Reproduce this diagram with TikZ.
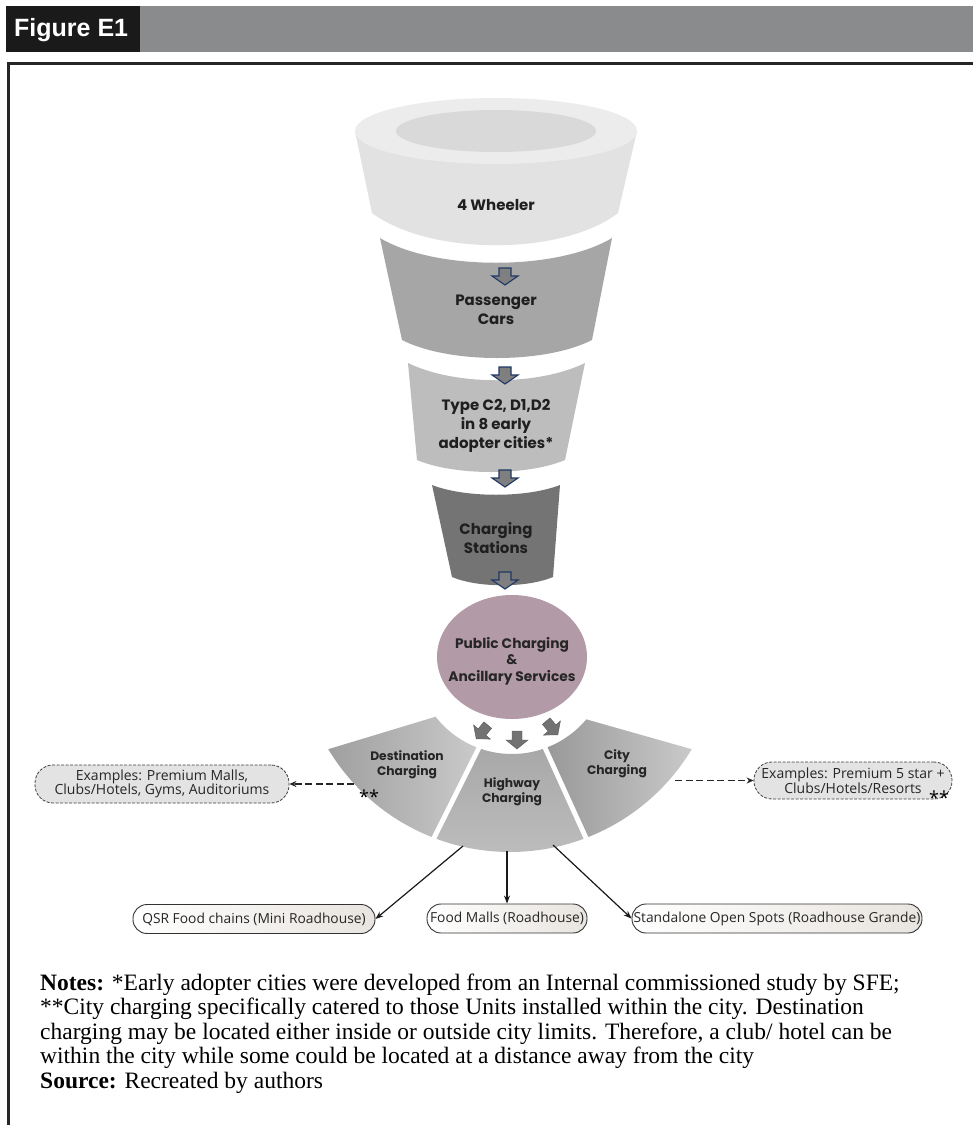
\documentclass[tikz,border=0pt]{standalone}
\usepackage{fontspec}
\setmainfont{Liberation Serif}
\newfontfamily\popfont{Poppins}
\newfontfamily\opfont{Open Sans}
\newfontfamily\arialfont{Liberation Sans}
\usetikzlibrary{arrows.meta,calc}
\definecolor{hdrgray}{HTML}{8A8B8D}
\definecolor{hdrblack}{HTML}{1A1A1A}
\definecolor{segA}{HTML}{E2E2E2}
\definecolor{segAtop}{HTML}{ECECEC}
\definecolor{segAin}{HTML}{D9D9D9}
\definecolor{segB}{HTML}{A6A6A6}
\definecolor{segC}{HTML}{BDBDBD}
\definecolor{segD}{HTML}{747474}
\definecolor{mauve}{HTML}{B39AA7}
\definecolor{navy}{HTML}{203864}
\definecolor{arrgray}{HTML}{7F7F7F}
\definecolor{beige}{HTML}{E8E4DF}
\begin{document}
\begin{tikzpicture}[x=1pt,y=1pt,yscale=-1,
  ftext/.style={font=\popfont\bfseries\fontsize{15}{19}\selectfont, align=center, text=black!88, inner sep=0},
  stext/.style={font=\popfont\bfseries\fontsize{12.3}{14.5}\selectfont, align=center, text=black!85, inner sep=0},
  exbox/.style={draw=black!75, dash pattern=on 3pt off 1.5pt, line width=0.8, fill=gray!22, rounded corners=18, inner sep=0, align=center, font=\opfont\fontsize{14}{14.5}\selectfont, text=black!85},
  btbox/.style={draw=black!80, line width=0.9, rounded corners=14, left color=white, right color=beige, inner sep=0, minimum height=29, font=\opfont\fontsize{13.8}{14}\selectfont, text=black!85},
  dasharrow/.style={draw=black!85, line width=1.3, dash pattern=on 7pt off 3.5pt, -{Stealth[length=7pt,width=6pt]}},
  solarrow/.style={draw=black!90, line width=1.2, -{Stealth[length=8pt,width=6pt]}},
  notefont/.style={font=\fontsize{23.5}{26}\selectfont, inner sep=0, anchor=base west},
  astfont/.style={font=\opfont\fontsize{18}{18}\selectfont, inner sep=0},
  funarrow/.pic={\filldraw[fill=arrgray, draw=navy, line width=1.1] (-6,0) -- (6,0) -- (6,-8) -- (13,-8) -- (0,-17) -- (-13,-8) -- (-6,-8) -- cycle;},
  gryarrow/.pic={\filldraw[fill=arrgray!90!black, draw=arrgray!70!black, line width=0.4] (-5,9) -- (5,9) -- (5,0) -- (11,0) -- (0,-9) -- (-11,0) -- (-5,0) -- cycle;}
]
\useasboundingbox (0,0) rectangle (973,1125);
\fill[white] (0,0) rectangle (973,1125);

% header
\fill[hdrgray] (6,6) rectangle (973,52);
\fill[hdrblack] (6,6) rectangle (140,52);
\node[anchor=west, text=white, font=\arialfont\bfseries\fontsize{25}{27}\selectfont, inner sep=0] (title) at (14,30) {Figure E1};

% frame
\draw[line width=3, black!85] (8,1125) -- (8,63) -- (973,63);

% funnel segment 1
\fill[segA] (355,131) -- (372,213) .. controls (430,256) and (562,256) .. (618,213) -- (637,131) -- cycle;
\fill[segAtop] (496,131) ellipse [x radius=141, y radius=33];
\fill[segAin] (496,131) ellipse [x radius=100, y radius=21];
% segment 2
\fill[segB] (380,238) .. controls (435,271) and (557,271) .. (612,238) -- (592,340) .. controls (545,364) and (449,364) .. (402,340) -- cycle;
% segment 3
\fill[segC] (408,363) .. controls (455,386) and (538,386) .. (585,363) -- (565,460) .. controls (527,476) and (455,476) .. (417,460) -- cycle;
% segment 4
\fill[segD] (432,485) .. controls (465,498) and (527,498) .. (560,485) -- (553,577) .. controls (527,588) and (478,588) .. (452,577) -- cycle;

\node[ftext] (s1) at (496,205) {4 Wheeler};
\node[ftext] (s2) at (496,310) {Passenger\\Cars};
\node[ftext] (s3) at (496,426) {Type C2, D1,D2\\in 8 early\\adopter cities*};
\node[ftext] (s4) at (496,538) {Charging\\Stations};

\pic at (505,268) {funarrow};
\pic at (505,367) {funarrow};
\pic at (505,470) {funarrow};
\pic at (505,572) {funarrow};

% circle
\fill[mauve] (512,657) ellipse [x radius=75, y radius=62];
\node[stext, font=\popfont\bfseries\fontsize{13.8}{16.5}\selectfont] (pc) at (512,661) {Public Charging\\\&\\Ancillary Services};

% sectors
\coordinate (Ci) at (512,657);
\coordinate (Co) at (510,640);
\shade[left color=gray!75, right color=gray!42]
  ($(Co)+(149:212)$) -- ($(Ci)+(142:97)$) arc[start angle=142, end angle=111.5, radius=97]
  -- ($(Co)+(111.7:212)$) arc[start angle=111.7, end angle=149, radius=212] -- cycle;
\shade[top color=gray!68, bottom color=gray!52]
  ($(Ci)+(108.5:97)$) arc[start angle=108.5, end angle=71.5, radius=97]
  -- ($(Co)+(69.7:212)$) arc[start angle=69.7, end angle=110.3, radius=212] -- cycle;
\shade[left color=gray!80, right color=gray!42]
  ($(Ci)+(68.5:97)$) arc[start angle=68.5, end angle=40, radius=97]
  -- ($(Co)+(31:212)$) arc[start angle=31, end angle=68.3, radius=212] -- cycle;

\node[stext] (dest) at (407,765) {Destination\\Charging};
\node[stext] (hwy) at (512,792) {Highway\\Charging};
\node[stext] (city) at (617,764) {City\\Charging};
\node[astfont] (ast1) at (369,797) {**};

\pic[rotate=-40] at (482,732) {gryarrow};
\pic at (517,740) {gryarrow};
\pic[rotate=40] at (552,728) {gryarrow};

% example boxes
\node[exbox, minimum width=254, minimum height=38] (exL) at (162,784) {Examples: Premium Malls,\\Clubs/Hotels, Gyms, Auditoriums};
\node[exbox, minimum width=198, minimum height=37] (exR) at (853,780.5) {Examples: Premium 5 star +\\Clubs/Hotels/Resorts\hspace{16pt}};
\node[astfont] (ast2) at (939,798) {**};

\coordinate (dstL) at (354,784);
\coordinate (cityR) at (675,780.5);
\draw[dasharrow] (dstL) -- (exL.east);
\draw[dasharrow] (cityR) -- (exR.west);

% bottom boxes
\node[btbox, minimum width=242] (qsr) at (254,919) {QSR Food chains (Mini Roadhouse)};
\node[btbox, minimum width=160] (fm) at (507,918.5) {Food Malls (Roadhouse)};
\node[btbox, minimum width=290] (so) at (777,918.5) {Standalone Open Spots (Roadhouse Grande)};

\coordinate (hwL) at (463,846);
\coordinate (hwM) at (507,851);
\coordinate (hwR) at (553,845);
\draw[solarrow] (hwL) -- (qsr.east);
\draw[solarrow] (hwM) -- (fm.north);
\draw[solarrow] (hwR) -- (so.west);

% notes
\node[notefont] (nl1) at (40,990) {\textbf{Notes:} *Early adopter cities were developed from an Internal commissioned study by SFE;};
\node[notefont] (nl2) at (40,1014.5) {**City charging specifically catered to those Units installed within the city. Destination};
\node[notefont] (nl3) at (40,1039) {charging may be located either inside or outside city limits. Therefore, a club/ hotel can be};
\node[notefont] (nl4) at (40,1063.5) {within the city while some could be located at a distance away from the city};
\node[notefont] (nl5) at (40,1088) {\textbf{Source:} Recreated by authors};
\end{tikzpicture}
\end{document}
